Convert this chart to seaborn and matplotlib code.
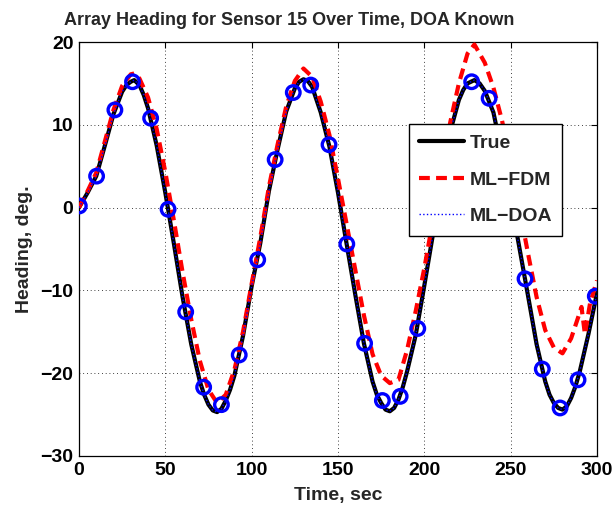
import numpy as np
import pandas as pd
import matplotlib
matplotlib.use("Agg")
import matplotlib.pyplot as plt
import seaborn as sns

# ---------------- data ----------------
time_true = [0, 5, 10, 15, 20, 25, 27.5, 30, 32, 35, 37.5, 40, 45, 50, 55, 60, 65, 70, 72.5,
             75, 77.5, 80, 82.5, 85, 87.5, 90, 95, 100, 105, 110, 115, 120, 125, 127.5, 130,
             132.5, 135, 140, 145, 150, 155, 160, 165, 170, 172.5, 175, 177.5, 180, 182.5,
             185, 187.5, 190, 195, 200, 205, 210, 215, 220, 222.5, 225, 229, 232, 235, 240,
             245, 250, 255, 260, 265, 270, 272.5, 275, 277.5, 280, 282.5, 285, 287.5, 290,
             295, 300]
heading_true = [0.0, 1.8, 3.8, 7.5, 11.3, 14.0, 14.8, 15.2, 15.4, 14.8, 13.6, 12.0, 7.5, 1.8,
                -4.4, -10.8, -16.5, -21.0, -22.6, -23.8, -24.5, -24.7, -24.3, -23.3, -22.0,
                -20.3, -15.5, -9.5, -4.3, 2.0, 7.0, 11.6, 14.4, 15.2, 15.5, 15.3, 14.6, 11.5,
                7.4, 1.8, -4.4, -10.5, -16.4, -21.0, -22.6, -23.6, -24.4, -24.6, -24.2,
                -23.2, -21.7, -19.8, -15.4, -9.4, -3.2, 3.8, 9.2, 13.0, 14.2, 15.0, 15.4,
                15.0, 14.1, 11.5, 6.5, 1.0, -4.8, -10.6, -16.5, -21.0, -22.6, -23.6, -24.2,
                -24.4, -24.0, -23.0, -21.6, -19.8, -15.3, -10.3]

time_fdm = [0, 5, 10, 15, 20, 25, 30, 32, 35, 40, 45, 50, 55, 60, 65, 70, 75, 80, 85, 90,
            95, 100, 105, 110, 115, 120, 125, 130, 135, 140, 145, 150, 155, 160, 165, 170,
            175, 180, 185, 190, 195, 200, 205, 210, 215, 220, 225, 229, 235, 240, 245, 250,
            255, 260, 265, 270, 275, 280, 285, 289, 291, 293, 296, 300]
heading_fdm = [0.0, 2.0, 4.2, 8.0, 11.8, 14.7, 16.1, 16.2, 15.6, 13.3, 9.5, 4.3, -1.6, -7.8,
               -13.5, -18.5, -22.0, -23.6, -22.6, -19.6, -15.0, -9.2, -3.6, 2.5, 7.6, 12.2,
               15.3, 16.8, 15.8, 12.8, 8.8, 3.5, -2.0, -7.5, -13.0, -17.7, -20.3, -21.2,
               -20.8, -17.2, -12.5, -7.3, -1.5, 4.5, 10.3, 15.0, 18.6, 19.7, 17.5, 14.5,
               10.5, 5.5, 0.0, -5.5, -10.8, -14.8, -16.9, -17.6, -15.8, -13.3, -12.0,
               -15.3, -11.5, -8.8]

# ML-DOA estimate (dense line follows the truth closely)
time_doa = time_true
heading_doa = heading_true

# ML-DOA sample markers
time_marks = [0.2, 10.2, 20.8, 31.0, 41.5, 51.6, 61.8, 72.2, 82.5, 92.8, 103.5, 113.6,
              124.1, 134.2, 144.8, 155.1, 165.4, 175.7, 186.0, 196.2, 227.4, 237.5,
              258.3, 268.3, 278.6, 289.0, 299.0]
heading_marks = [0.2, 3.8, 11.8, 15.2, 10.8, -0.2, -12.6, -21.7, -23.8, -17.8, -6.3, 5.8,
                 13.9, 14.8, 7.6, -4.4, -16.4, -23.3, -22.8, -14.6, 15.2, 13.2,
                 -8.6, -19.5, -24.2, -20.8, -10.7]

x_ticks = [0, 50, 100, 150, 200, 250, 300]
y_ticks = [-30, -20, -10, 0, 10, 20]
series_labels = ["True", "ML\u2212FDM", "ML\u2212DOA"]

# ---------------- style ----------------
sns.set_style("white")
plt.rcParams["font.family"] = ["Liberation Sans", "DejaVu Sans"]
plt.rcParams["font.weight"] = "bold"
plt.rcParams["axes.labelweight"] = "bold"
plt.rcParams["axes.titleweight"] = "bold"

FS = 14

fig = plt.figure(figsize=(6.16, 5.08), dpi=100)
ax = fig.add_axes([0.1282, 0.1024, 0.8410, 0.8149])

sns.lineplot(x=time_true, y=heading_true, ax=ax, color="black", linewidth=3.0,
             label=series_labels[0], sort=False, zorder=2)
sns.lineplot(x=time_fdm, y=heading_fdm, ax=ax, color="red", linewidth=3.0,
             label=series_labels[1], sort=False, zorder=3, dashes=False)
ax.lines[-1].set_dashes([2.6, 1.5])
sns.lineplot(x=time_doa, y=heading_doa, ax=ax, color="blue", linewidth=1.0,
             label=series_labels[2], sort=False, zorder=4)
ax.lines[-1].set_linestyle(":")
sns.scatterplot(x=time_marks, y=heading_marks, ax=ax, marker="o", s=95,
                facecolors="none", edgecolor="blue", linewidth=2.4, zorder=5)

ax.set_xlim(0, 300)
ax.set_ylim(-30, 20)
ax.set_xticks(x_ticks)
ax.set_yticks(y_ticks)
ax.tick_params(direction="in", length=4, width=0.8, top=True, right=True,
               labelsize=FS, pad=4, colors="black")
for lab in ax.get_xticklabels() + ax.get_yticklabels():
    lab.set_fontweight("bold")
ax.grid(True, linestyle=(0, (1, 3.5)), color="black", linewidth=0.6)
for sp in ax.spines.values():
    sp.set_visible(True)
    sp.set_color("black")
    sp.set_linewidth(0.9)

ax.set_title("Array Heading for Sensor 15 Over Time, DOA Known", fontsize=13,
             fontweight="bold", pad=12, x=0.405)
ax.set_xlabel("Time, sec", fontsize=FS, fontweight="bold", labelpad=6)
ax.set_ylabel("Heading, deg.", fontsize=FS, fontweight="bold", labelpad=5)

leg = ax.legend(loc="upper left", bbox_to_anchor=(0.637, 0.802), borderaxespad=0,
                frameon=True, fancybox=False, framealpha=1, edgecolor="black",
                handlelength=2.32, handletextpad=0.25, labelspacing=0.98,
                borderpad=0.53, prop={"weight": "bold", "size": FS})
leg.get_frame().set_linewidth(1.0)
leg.set_zorder(10)

fig.savefig("out.png", dpi=100)
